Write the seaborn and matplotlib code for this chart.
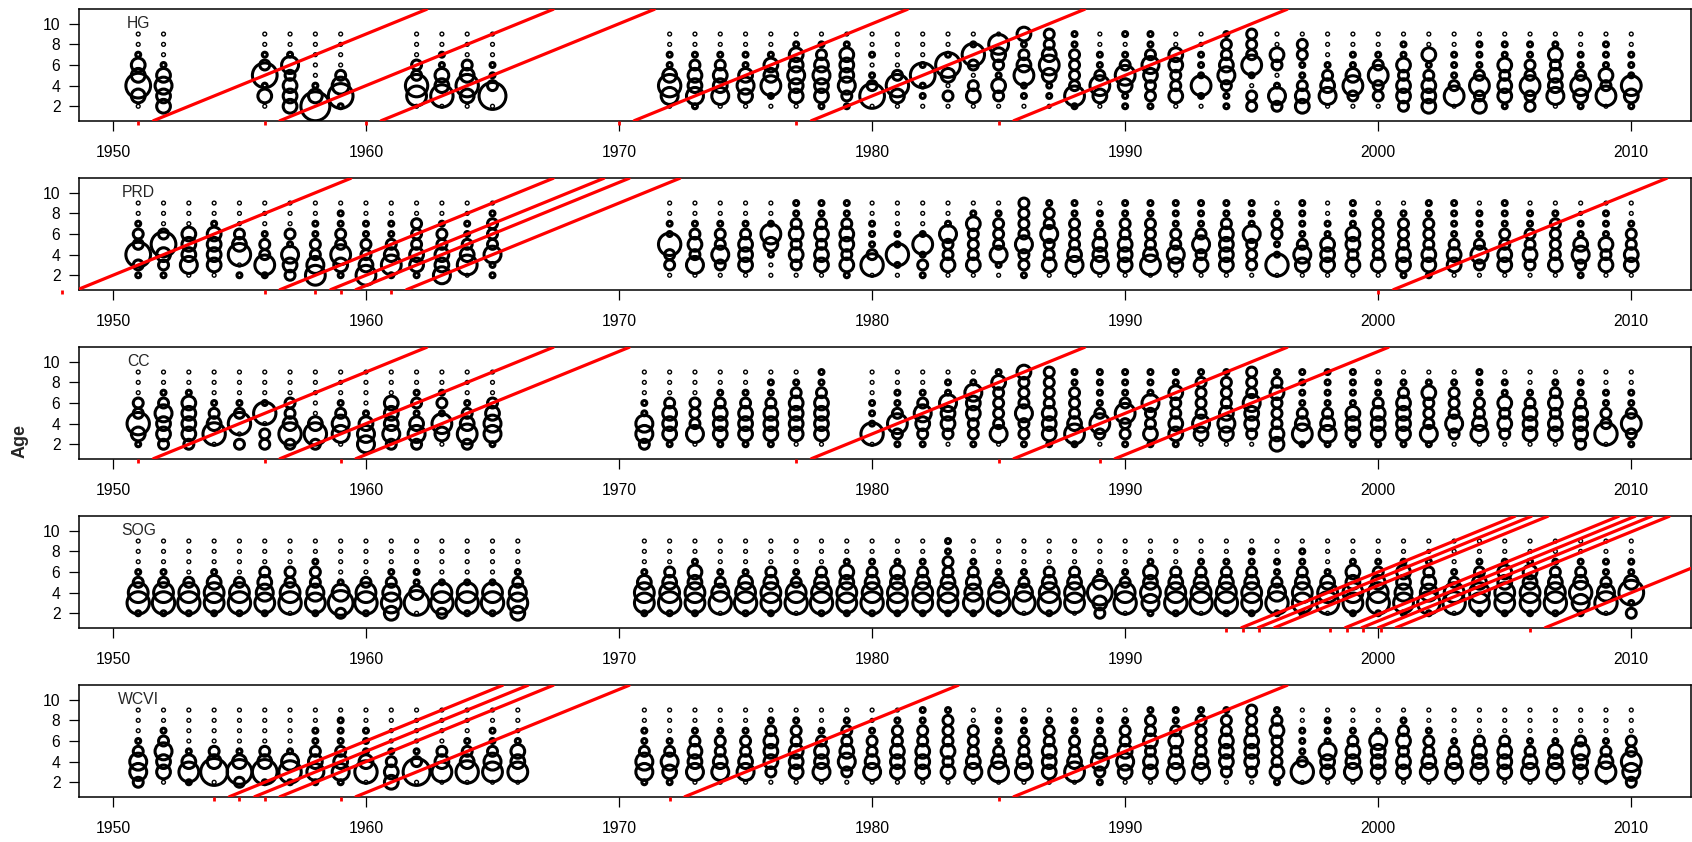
import numpy as np
import pandas as pd
import matplotlib
matplotlib.use("Agg")
import matplotlib.pyplot as plt
import seaborn as sns

# Ages shown in every panel (rows of bubbles)
AGES = [2, 3, 4, 5, 6, 7, 8, 9]

# Bubble size class (0-9) per survey year, one digit per age 2..9
HG_YEARS = [1951, 1952, 1956, 1957, 1958, 1959, 1962, 1963, 1964, 1965] + list(range(1972, 2011))
HG_CODES = [
    "03733100", "33431000", "03172100", "33324100", "93100000", "17420000",
    "05622000", "06331100", "03632000", "08211000",
    "04631100", "14332100", "04332100", "03431100", "01533100", "03343310",
    "13343210", "12433310", "07210100", "03620000", "01171000", "02037100",
    "03202610", "02312350", "01153213", "01135322", "15222211", "03521100",
    "11352101", "12234211", "03223300", "01511100", "11243221", "22015222",
    "24102300", "33211220", "04321000", "02531100", "02252100", "23323110",
    "33321300", "05211100", "32521110", "13323110", "22522110", "04332310",
    "13521100", "05231110", "13511100",
]

PRD_YEARS = list(range(1951, 1966)) + list(range(1972, 2011))
PRD_CODES = [
    "12722100", "12372000", "04333000", "03333100", "10632000", "15221000",
    "23412000", "54221100", "13522110", "53221100", "15321100", "13322200",
    "43322100", "05321100", "11422210",
    "02261100", "04232100", "02422100", "03332100", "00135100", "02323211",
    "03323211", "13233211", "06211100", "01611000", "12151000", "03224100",
    "03222310", "01422210", "12242222", "03224221", "04322211", "04332110",
    "03332211", "05322211", "03422111", "03242111", "03333211", "02224111",
    "06112210", "03421111", "03331100", "03233111", "03222210", "13322210",
    "13322211", "03321111", "02421110", "03322111", "02322110", "03222210",
    "12431100", "03231110", "03322100",
]

CC_YEARS = list(range(1951, 1966)) + list(range(1971, 1979)) + list(range(1980, 2011))
CC_CODES = [
    "13622000", "23342100", "23333100", "06321000", "20621000", "22061000",
    "26322000", "26300000", "04421000", "44310000", "24333000", "24312100",
    "03512100", "25321000", "14432000",
    "24411000", "13332000", "04222000", "13332100", "13332100", "13332110",
    "03333210", "03333211",
    "06111000", "12521100", "12342100", "02334110", "12233410", "04222231",
    "12242223", "13332222", "15322211", "02521111", "12252111", "13224111",
    "13322311", "03422221", "03432221", "02334222", "33222321", "15321111",
    "14321111", "13331111", "13332110", "13333210", "14222310", "02422210",
    "04322111", "02323110", "03332100", "03323210", "23332110", "06221100",
    "12521100",
]

SOG_YEARS = list(range(1951, 1967)) + list(range(1971, 2011))
SOG_CODES = [
    "16521000", "16521000", "16520000", "15531000", "16520000", "15432000",
    "06522000", "15422100", "27410000", "16520000", "35421000", "07311000",
    "26510000", "16510000", "16510000", "35421000",
    "15531000", "16532000", "15533100", "06421000", "16531000", "15532000",
    "06521000", "16532000", "15533100", "16532100", "15533100", "15532100",
    "15532211", "15432100", "16521000", "06421000", "16532000", "05532000",
    "23731000", "06521000", "14533100", "16532000", "06532100", "16532100",
    "15532110", "16421100", "15532110", "06531000", "15533100", "16532100",
    "15433100", "16432100", "06521000", "15532100", "15533100", "15533100",
    "16532100", "14632100", "06421100", "21731100",
]

WCVI_YEARS = list(range(1951, 1967)) + list(range(1971, 2011))
WCVI_CODES = [
    "24421000", "03342100", "15310000", "08320000", "27310000", "17320000",
    "16410000", "14321100", "14321110", "06311100", "33210000", "08210000",
    "05320000", "06321000", "05421100", "05331000",
    "14421100", "13421000", "04332100", "04322100", "04322100", "02333210",
    "03332210", "04332100", "02432210", "04322100", "03332210", "03332211",
    "03232221", "04322200", "05321110", "04322110", "03332210", "05322110",
    "12432110", "03432210", "03323221", "04323211", "04322221", "02333221",
    "02333222", "13222321", "06211100", "03341110", "04332100", "03334100",
    "03323210", "04322100", "04321000", "04332000", "03332000", "04321000",
    "04331000", "03342000", "05321000", "24522000",
]

# Brood years of the cohorts traced by the red diagonals
HG_COHORTS = [1951, 1956, 1960, 1970, 1977, 1985]
PRD_COHORTS = [1948, 1956, 1958, 1959, 1961, 2000]
CC_COHORTS = [1951, 1956, 1959, 1977, 1985, 1989]
SOG_COHORTS = [1994, 1994.65, 1995.3, 1998.1, 1998.75, 1999.4, 2000.1, 2006]
WCVI_COHORTS = [1954, 1955, 1956, 1959, 1972, 1985]

REGIONS = ["HG", "PRD", "CC", "SOG", "WCVI"]
PANELS = {
    "HG": (HG_YEARS, HG_CODES, HG_COHORTS),
    "PRD": (PRD_YEARS, PRD_CODES, PRD_COHORTS),
    "CC": (CC_YEARS, CC_CODES, CC_COHORTS),
    "SOG": (SOG_YEARS, SOG_CODES, SOG_COHORTS),
    "WCVI": (WCVI_YEARS, WCVI_CODES, WCVI_COHORTS),
}

X_TICKS = [1950, 1960, 1970, 1980, 1990, 2000, 2010]
Y_TICKS = [2, 4, 6, 8, 10]


def long_table(years, codes):
    rows = []
    for yr, code in zip(years, codes):
        for age, ch in zip(AGES, code):
            rows.append((yr, age, int(ch)))
    return pd.DataFrame(rows, columns=["year", "age", "size"])


# marker area (pt^2) for each size class; bubble area grows with the class
DPI = 100
PX = 72.0 / DPI
LW_BIG = 2.2
LW_SMALL = 1.0


def marker_area(c):
    if c == 0:
        outer = 2.6
        lw_px = LW_SMALL / PX
    else:
        outer = -2.0 + 6.0 * np.sqrt(c)
        lw_px = LW_BIG / PX
    d_pt = 2 * (outer - lw_px / 2) * PX
    return d_pt ** 2


SIZES = {c: marker_area(c) for c in range(10)}

sns.set_theme(style="ticks")
plt.rcParams["font.family"] = ["Liberation Sans", "DejaVu Sans"]
plt.rcParams["axes.linewidth"] = 1.1
plt.rcParams["axes.edgecolor"] = "black"

W, H = 1692, 842
fig = plt.figure(figsize=(W / DPI, H / DPI), dpi=DPI)
fig.patch.set_facecolor("white")

left_px, right_px = 78.5, 1691.0
top0, pan_h, step = 9.3, 111.4, 169.0
XLIM = (1948.64, 2012.36)
YLIM = (0.6, 11.4)

for i, name in enumerate(REGIONS):
    years, codes, cohorts = PANELS[name]
    top = top0 + step * i
    ax = fig.add_axes([left_px / W, 1 - (top + pan_h) / H,
                       (right_px - left_px) / W, pan_h / H])
    ax.set_facecolor("white")
    df = long_table(years, codes)
    small = df[df["size"] == 0]
    big = df[df["size"] > 0]
    sns.scatterplot(data=small, x="year", y="age", size="size", sizes=SIZES,
                    color="black", facecolor="none", edgecolor="black",
                    linewidth=LW_SMALL, legend=False, ax=ax, zorder=2)
    sns.scatterplot(data=big, x="year", y="age", size="size", sizes=SIZES,
                    color="black", facecolor="none", edgecolor="black",
                    linewidth=LW_BIG, legend=False, ax=ax, zorder=2)
    for k in cohorts:
        ax.axline((k, 0), slope=1, color="red", lw=2.3, zorder=3)
        ax.plot([k, k], [YLIM[0] - 0.06, YLIM[0] - 0.45], color="red",
                lw=2.0, clip_on=False, solid_capstyle="butt", zorder=3)
    ax.text(1951, 10, name, ha="center", va="center", fontsize=11.3)
    ax.set_xlim(*XLIM)
    ax.set_ylim(*YLIM)
    ax.set_xticks(X_TICKS)
    ax.set_yticks(Y_TICKS)
    ax.set_xlabel("")
    ax.set_ylabel("")
    ax.tick_params(axis="both", direction="out", length=7, width=0.9,
                   labelsize=11.3, colors="black")
    ax.tick_params(axis="x", pad=10.5)
    ax.tick_params(axis="y", pad=6)
    for sp in ax.spines.values():
        sp.set_visible(True)
        sp.set_linewidth(1.1)
        sp.set_color("black")

fig.text(20 / W, 1 - 441 / H, "Age", rotation=90, ha="center", va="center",
         fontsize=13, fontweight="bold")

fig.savefig("out.png", dpi=DPI, facecolor="white")
